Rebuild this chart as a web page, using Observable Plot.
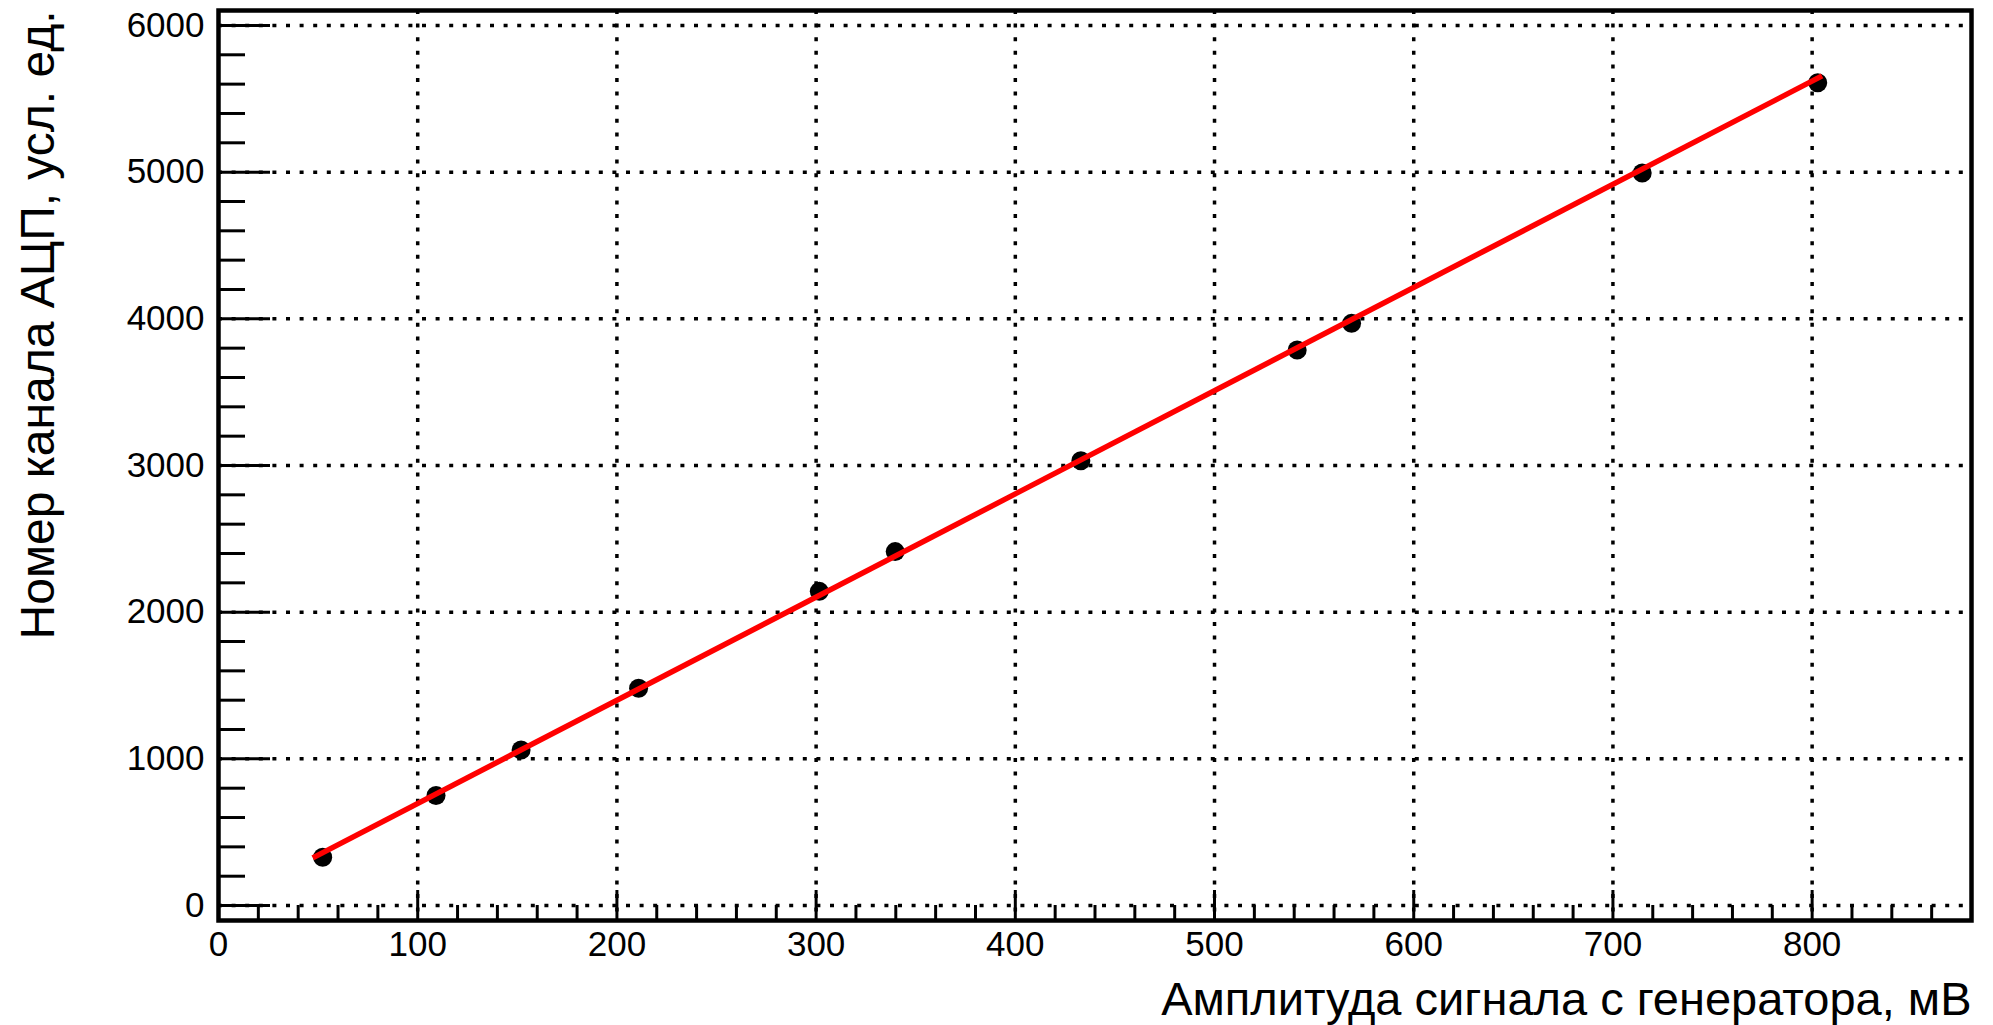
<!DOCTYPE html>
<html>
<head>
<meta charset="utf-8">
<script src="https://cdn.jsdelivr.net/npm/d3@7"></script>
<script src="https://cdn.jsdelivr.net/npm/@observablehq/plot@0.6"></script>
<style>
  html, body { margin: 0; padding: 0; background: white; }
  #chart svg { display: block; }
</style>
</head>
<body>
<div id="chart"></div>
<script>
// Measured points
const amplitude = [52.3, 109.2, 151.9, 210.9, 301.6, 339.7, 432.9, 541.5, 568.8, 714.7, 802.8];
const channel   = [329, 750, 1061, 1481, 2142, 2413, 3033, 3788, 3969, 4994, 5610];

// Linear fit line end points
const fitX = [47.3, 805];
const fitY = [325, 5656];

// Axis ticks
const xMajor = [0, 100, 200, 300, 400, 500, 600, 700, 800];
const xMinor = [20, 40, 60, 80, 120, 140, 160, 180, 220, 240, 260, 280, 320, 340, 360, 380, 420, 440, 460, 480, 520, 540, 560, 580, 620, 640, 660, 680, 720, 740, 760, 780, 820, 840, 860];
const yMajor = [0, 1000, 2000, 3000, 4000, 5000, 6000];
const yMinor = [200, 400, 600, 800, 1200, 1400, 1600, 1800, 2200, 2400, 2600, 2800, 3200, 3400, 3600, 3800, 4200, 4400, 4600, 4800, 5200, 5400, 5600, 5800];

const xTitle = "Амплитуда сигнала с генератора, мВ";
const yTitle = "Номер канала АЦП, усл. ед.";

const points = amplitude.map((a, i) => ({x: a, y: channel[i]}));
const fit = fitX.map((a, i) => ({x: a, y: fitY[i]}));

const W = 1993, H = 1025;
const mL = 218, mR = 22, mT = 10, mB = 105;
const innerW = W - mL - mR, innerH = H - mT - mB;
const grid = {stroke: "black", strokeWidth: 3.5, strokeDasharray: "4,9.6"};

const chart = Plot.plot({
  width: W, height: H,
  marginLeft: mL, marginRight: mR, marginTop: mT, marginBottom: mB,
  style: {fontFamily: "'Liberation Sans', Arial, Helvetica, sans-serif", fontSize: "35px", background: "white", color: "black"},
  x: {domain: [0, 880]},
  y: {domain: [-102, 6102]},
  marks: [
    Plot.ruleX(xMajor.filter(d => d > 0), {...grid}),
    Plot.ruleY(yMajor, {...grid}),
    // inward ticks
    Plot.tickX(xMajor, {stroke: "black", strokeWidth: 3, insetTop: innerH - 30}),
    Plot.tickX(xMinor, {stroke: "black", strokeWidth: 3, insetTop: innerH - 15}),
    Plot.tickY(yMajor, {stroke: "black", strokeWidth: 3, insetRight: innerW - 52}),
    Plot.tickY(yMinor, {stroke: "black", strokeWidth: 3, insetRight: innerW - 27}),
    Plot.axisX({ticks: xMajor, tickSize: 0, tickPadding: 11, tickFormat: d => String(d), label: null, fontSize: 35}),
    Plot.axisY({ticks: yMajor, tickSize: 0, tickPadding: 14, tickFormat: d => String(d), label: null, fontSize: 35}),
    Plot.frame({stroke: "black", strokeWidth: 4.5}),
    Plot.dot(points, {x: "x", y: "y", r: 9.5, fill: "black", stroke: "none"}),
    Plot.line(fit, {x: "x", y: "y", stroke: "#ff0000", strokeWidth: 5.5, strokeLinecap: "butt"}),
    Plot.text([xTitle], {frameAnchor: "bottom-right", dy: 79, textAnchor: "end", lineAnchor: "middle", fontSize: 47, fill: "black"}),
    Plot.text([yTitle], {frameAnchor: "top-left", dx: -180, dy: 0, rotate: -90, textAnchor: "end", lineAnchor: "middle", fontSize: 48, fill: "black"})
  ]
});
document.getElementById("chart").appendChild(chart);
</script>
</body>
</html>
